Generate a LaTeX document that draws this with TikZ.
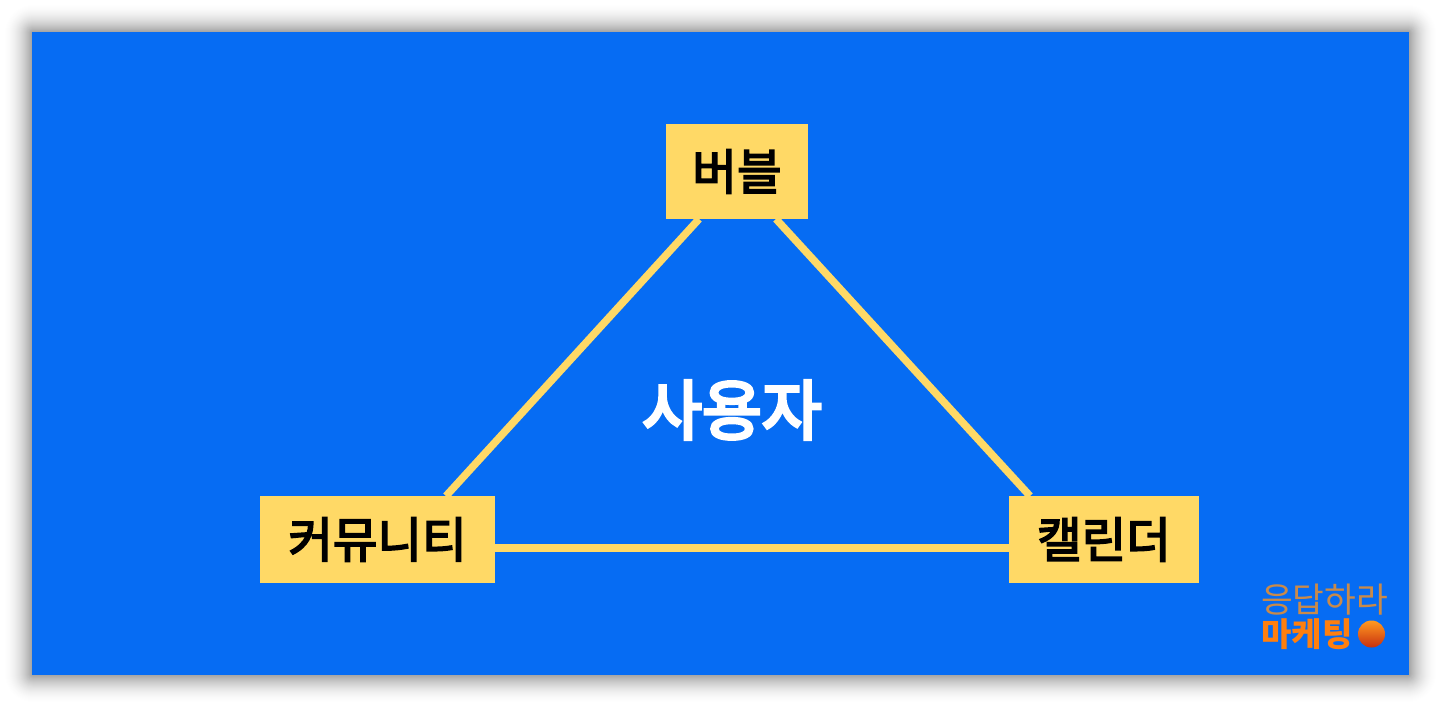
\documentclass[tikz,border=0pt]{standalone}
\usepackage{fontspec}
\newfontfamily\kr{Noto Sans CJK KR}
\newfontfamily\krm[FakeBold=3.5]{Noto Sans CJK KR}
\newfontfamily\krw[FakeBold=5]{Noto Sans CJK KR}
\definecolor{bluebg}{HTML}{066CF3}
\definecolor{boxy}{HTML}{FFD966}
\definecolor{logoO}{HTML}{FF7F0E}
\definecolor{logoT}{HTML}{C98A4A}
\definecolor{ballT}{HTML}{FF9A20}
\definecolor{ballM}{HTML}{FF5010}
\definecolor{ballB}{HTML}{C83010}
\tikzset{
  boxnode/.style={fill=boxy,inner sep=0pt,font=\krm\fontsize{48.5}{52}\selectfont,text=black},
  linkline/.style={draw=boxy,line width=7.5pt},
}
\begin{document}
\begin{tikzpicture}[x=1pt,y=-1pt]
\useasboundingbox (0,0) rectangle (1441,707);
\fill[white] (0,0) rectangle (1441,707);
\foreach \e in {1,...,29}{
  \pgfmathsetmacro{\al}{0.024*(1-\e/30)}
  \pgfmathsetmacro{\rc}{\e+1}
  \fill[black,opacity=\al,rounded corners=\rc pt] (32-\e,32-\e) rectangle (1409+\e,675+\e);
}
\fill[bluebg] (32,32) rectangle (1409,675);
\coordinate (a1) at (699,219);
\coordinate (a2) at (446,496);
\coordinate (b1) at (776,219);
\coordinate (b2) at (1030,496);
\coordinate (c1) at (495,548);
\coordinate (c2) at (1009,548);
\draw[linkline] (a1) -- (a2);
\draw[linkline] (b1) -- (b2);
\draw[linkline] (c1) -- (c2);
\node[boxnode,minimum width=142pt,minimum height=95pt] (bub) at (737,171.5) {\raisebox{-2pt}{버블}};
\node[boxnode,minimum width=235pt,minimum height=87pt] (com) at (377.5,539.5) {\raisebox{-1.5pt}{커뮤니티}};
\node[boxnode,minimum width=190pt,minimum height=87pt] (cal) at (1104,539.5) {\raisebox{-1.5pt}{캘린더}};
\node[font=\krw\fontsize{65}{69}\selectfont,text=white,inner sep=0pt] (usr) at (732,410) {사용자};
\node[font=\kr\fontsize{34.5}{36}\selectfont,text=logoT,inner sep=0pt] (lg1) at (1324.5,600) {응답하라};
\node[font=\kr\bfseries\fontsize{33}{35}\selectfont,text=logoO,inner sep=0pt] (lg2) at (1307,634) {마케팅};
\shade[top color=ballT,middle color=ballM,bottom color=ballB] (1371.5,634) circle (13.5pt);
\end{tikzpicture}
\end{document}
